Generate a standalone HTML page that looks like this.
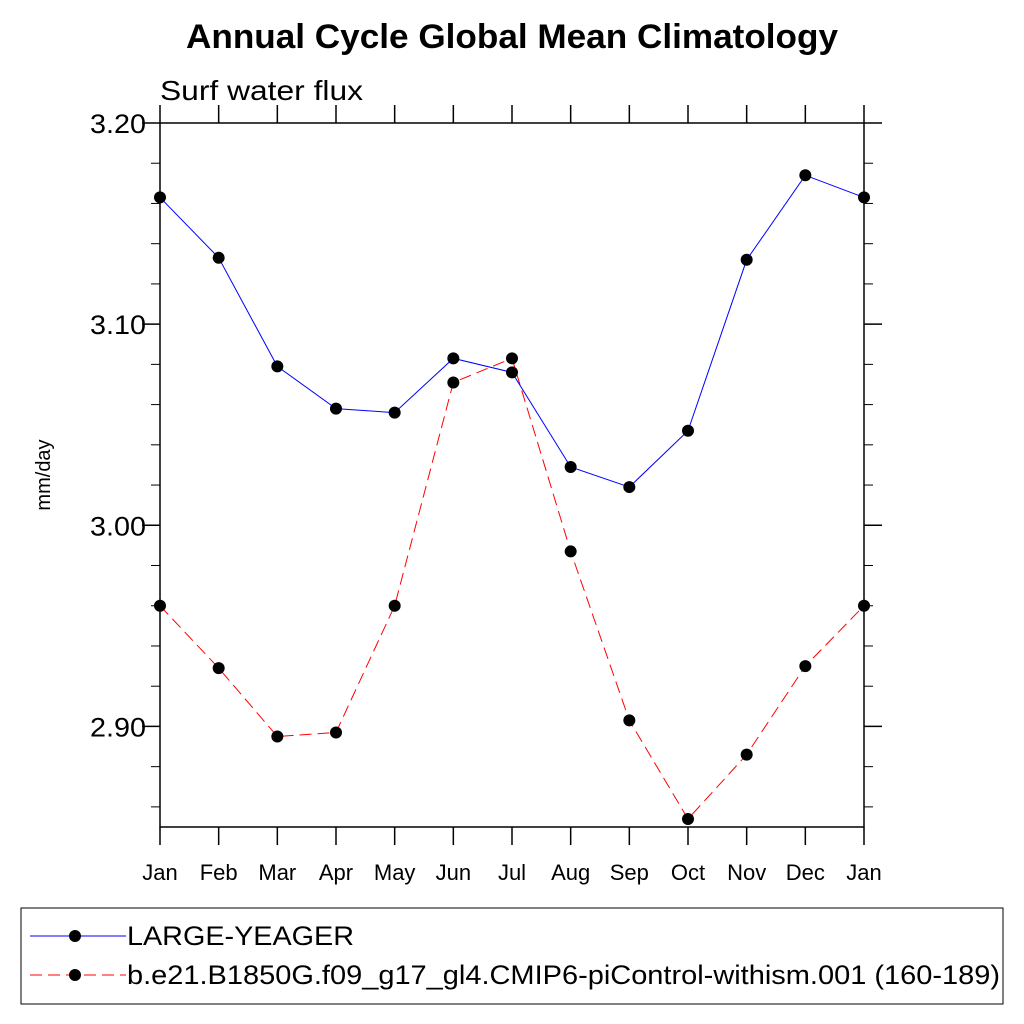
<!DOCTYPE html>
<html><head><meta charset="utf-8"><style>body{margin:0;background:#fff}svg{display:block}text{font-family:"Liberation Sans",sans-serif}</style></head>
<body>
<svg id="chart" width="1024" height="1024" xmlns="http://www.w3.org/2000/svg">
<text x="186" y="48" font-size="34" font-weight="bold" textLength="652" lengthAdjust="spacingAndGlyphs">Annual Cycle Global Mean Climatology</text>
<text x="160" y="100" font-size="28" textLength="203" lengthAdjust="spacingAndGlyphs">Surf water flux</text>
<text transform="translate(50,475) rotate(-90)" text-anchor="middle" font-size="20">mm/day</text>
<g id="axes"></g>
<g id="series"></g>
<rect x="21" y="908" width="982" height="96" fill="none" stroke="#000" stroke-width="1"/>
<g>
<line x1="30" y1="936" x2="126" y2="936" stroke="#00f" stroke-width="1"/><circle cx="75" cy="936" r="6"/>
<text x="127" y="945" font-size="27" textLength="227" lengthAdjust="spacingAndGlyphs">LARGE-YEAGER</text></g>
<g>
<line x1="30" y1="975" x2="126" y2="975" stroke="#f00" stroke-width="1" stroke-dasharray="12,6"/><circle cx="75" cy="975" r="6"/>
<text x="127" y="984" font-size="27" textLength="873" lengthAdjust="spacingAndGlyphs">b.e21.B1850G.f09_g17_gl4.CMIP6-piControl-withism.001 (160-189)</text></g>
</svg>
<script>
const months=["Jan","Feb","Mar","Apr","May","Jun","Jul","Aug","Sep","Oct","Nov","Dec","Jan"];
const largeYeager=[3.163,3.133,3.079,3.058,3.056,3.083,3.076,3.029,3.019,3.047,3.132,3.174,3.163];
const piControl=[2.960,2.929,2.895,2.897,2.960,3.071,3.083,2.987,2.903,2.854,2.886,2.930,2.960];
const yTicks=[2.90,3.00,3.10,3.20];
const yTickLabels=["2.90","3.00","3.10","3.20"];
const yMin=2.85,yMax=3.20;
const L=160,R=864,T=123,B=827;
const NS="http://www.w3.org/2000/svg";
const xs=i=>L+(R-L)*i/(months.length-1);
const ys=v=>B-(v-yMin)/(yMax-yMin)*(B-T);
function mk(tag,attrs,parent){const e=document.createElementNS(NS,tag);for(const k in attrs)e.setAttribute(k,attrs[k]);parent.appendChild(e);return e;}
const ax=document.getElementById('axes');
const frame=mk('rect',{x:L,y:T,width:R-L,height:B-T,fill:'none',stroke:'#000','stroke-width':1.5},ax);


for(let v=2.86;v<3.2;v+=0.02){const r=Math.round(v*100);if(r%10===0)continue;const y=ys(r/100);
mk('line',{x1:L-9,x2:L,y1:y,y2:y,stroke:'#000'},ax);mk('line',{x1:R,x2:R+9,y1:y,y2:y,stroke:'#000'},ax);}
yTicks.forEach((v,i)=>{const y=ys(v);
mk('line',{x1:L-18,x2:L,y1:y,y2:y,stroke:'#000','stroke-width':1.5},ax);
mk('line',{x1:R,x2:R+18,y1:y,y2:y,stroke:'#000','stroke-width':1.5},ax);
const t=mk('text',{x:146,y:y+10,'text-anchor':'end','font-size':27,textLength:56,lengthAdjust:'spacingAndGlyphs'},ax);t.textContent=yTickLabels[i];

});
months.forEach((m,i)=>{const x=xs(i);
mk('line',{x1:x,x2:x,y1:T-18,y2:T,stroke:'#000','stroke-width':1.5},ax);
mk('line',{x1:x,x2:x,y1:B,y2:B+18,stroke:'#000','stroke-width':1.5},ax);
const t=mk('text',{x:x,y:880,'text-anchor':'middle','font-size':22},ax);t.textContent=m;

});
const sg=document.getElementById('series');
function draw(vals,color,dash,name){const g=mk('g',{},sg);


const a={points:vals.map((v,i)=>xs(i)+','+ys(v)).join(' '),fill:'none',stroke:color,'stroke-width':1};
if(dash)a['stroke-dasharray']=dash;mk('polyline',a,g);
vals.forEach((v,i)=>{const c=mk('circle',{cx:xs(i),cy:ys(v),r:6,fill:'#000'},g);

});}
draw(piControl,'#f00','12,6','series-picontrol');
draw(largeYeager,'#00f',null,'series-large-yeager');
</script>
</body></html>
